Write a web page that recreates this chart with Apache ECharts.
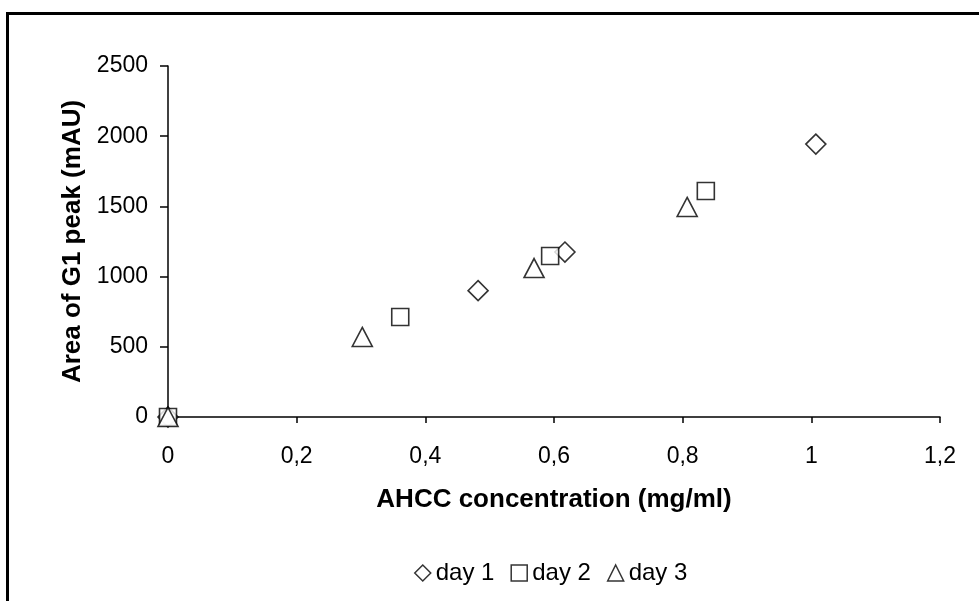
<!DOCTYPE html>
<html>
<head>
<meta charset="utf-8">
<script src="https://cdn.jsdelivr.net/npm/echarts@6/dist/echarts.min.js"></script>
<style>
html,body{margin:0;padding:0;background:#fff;}
#chart{width:979px;height:601px;}
</style>
</head>
<body>
<div id="chart"></div>
<script>
// Data
const seriesNames = ['day 1', 'day 2', 'day 3'];
const day1 = [[0, 0], [0.482, 900], [0.617, 1175], [1.007, 1944]];
const day2 = [[0, 0], [0.361, 712], [0.594, 1147], [0.836, 1610]];
const day3 = [[0, 0], [0.302, 570], [0.569, 1061], [0.807, 1496]];
const xTicks = [0, 0.2, 0.4, 0.6, 0.8, 1, 1.2];
const yTicks = [0, 500, 1000, 1500, 2000, 2500];
const xTitle = 'AHCC concentration (mg/ml)';
const yTitle = 'Area of G1 peak (mAU)';

const FONT = '"Liberation Sans", Arial, sans-serif';
const chart = echarts.init(document.getElementById('chart'), null, {renderer: 'canvas'});

const markerStyle = {color: '#ffffff', borderColor: '#000000', borderWidth: 1.6};
const symbols = ['diamond', 'rect', 'triangle'];
const sizes = [[20, 20], [17, 17], [20, 19]];
const datasets = [day1, day2, day3];

chart.setOption({
  backgroundColor: '#ffffff',
  animation: false,
  textStyle: {fontFamily: FONT, color: '#000'},
  graphic: [{
    type: 'rect',
    shape: {x: 7.5, y: 13.5, width: 1200, height: 800},
    style: {fill: null, stroke: '#000', lineWidth: 3},
    silent: true
  }],
  grid: {left: 168, right: 39, top: 66, bottom: 184, containLabel: false},
  xAxis: {
    type: 'value',
    min: xTicks[0], max: xTicks[xTicks.length - 1], interval: 0.2,
    name: xTitle, nameLocation: 'middle', nameGap: 70,
    nameTextStyle: {fontFamily: FONT, fontSize: 26, fontWeight: 'bold', color: '#000'},
    axisLine: {onZero: false, lineStyle: {color: '#000', width: 1.5}},
    axisTick: {show: true, inside: false, length: 6, lineStyle: {color: '#000', width: 1.5}},
    axisLabel: {fontFamily: FONT, fontSize: 23, color: '#000', margin: 28,
      formatter: v => String(Math.round(v * 10) / 10).replace('.', ',')},
    splitLine: {show: false}
  },
  yAxis: {
    type: 'value',
    min: yTicks[0], max: yTicks[yTicks.length - 1], interval: 500,
    name: yTitle, nameLocation: 'middle', nameGap: 64, nameRotate: 90,
    nameTextStyle: {fontFamily: FONT, fontSize: 26, fontWeight: 'bold', color: '#000'},
    axisLine: {show: true, onZero: false, lineStyle: {color: '#000', width: 1.5}},
    axisTick: {show: true, inside: false, length: 8, lineStyle: {color: '#000', width: 1.5}},
    axisLabel: {fontFamily: FONT, fontSize: 23, color: '#000', margin: 20,
      formatter: v => String(v)},
    splitLine: {show: false}
  },
  legend: {
    bottom: 11, left: 409,
    itemWidth: 16, itemHeight: 16, itemGap: 16,
    textStyle: {fontFamily: FONT, fontSize: 24, color: '#000', padding: [0, 0, 0, 0]},
    data: seriesNames.map((n, i) => ({name: n, icon: symbols[i],
      itemStyle: {color: '#fff', borderColor: '#000', borderWidth: 1.5}}))
  },
  series: seriesNames.map((n, i) => ({
    name: n,
    type: 'scatter',
    symbol: symbols[i],
    symbolSize: sizes[i],
    itemStyle: markerStyle,
    clip: false,
    z: 2 + i,
    data: datasets[i]
  }))
});
</script>
</body>
</html>
